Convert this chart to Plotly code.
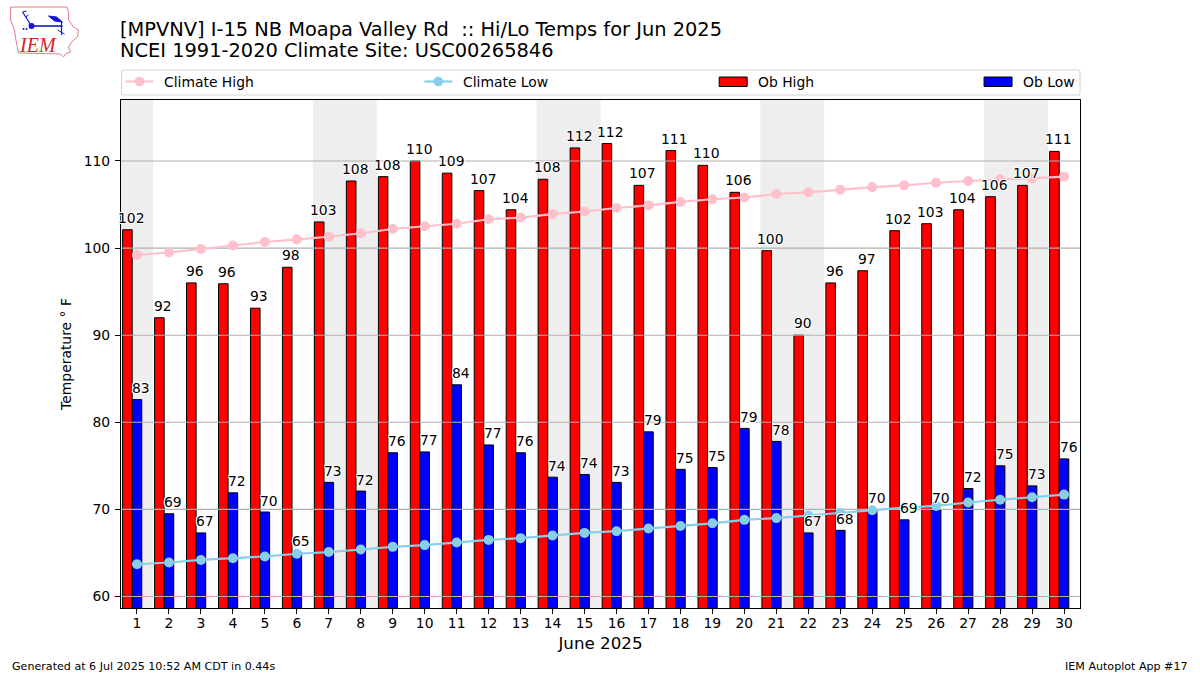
import plotly.graph_objects as go

days = list(range(1, 31))
weekend_days = [1, 7, 8, 14, 15, 21, 22, 28, 29]
y_ticks = [60, 70, 80, 90, 100, 110]

ob_high = [102.1, 92.0, 96.0, 95.9, 93.1, 97.8, 103.0, 107.7, 108.2, 110.0,
           108.6, 106.6, 104.4, 107.9, 111.5, 112.0, 107.2, 111.2, 109.5, 106.4,
           99.7, 90.0, 96.0, 97.4, 102.0, 102.8, 104.4, 105.9, 107.2, 111.1]
ob_low = [82.6, 69.5, 67.3, 71.9, 69.7, 65.1, 73.1, 72.1, 76.5, 76.6,
          84.3, 77.4, 76.5, 73.7, 74.0, 73.1, 78.9, 74.6, 74.8, 79.3,
          77.8, 67.3, 67.6, 70.0, 68.8, 70.0, 72.4, 75.0, 72.7, 75.8]
high_labels = [102, 92, 96, 96, 93, 98, 103, 108, 108, 110,
               109, 107, 104, 108, 112, 112, 107, 111, 110, 106,
               100, 90, 96, 97, 102, 103, 104, 106, 107, 111]
low_labels = [83, 69, 67, 72, 70, 65, 73, 72, 76, 77,
              84, 77, 76, 74, 74, 73, 79, 75, 75, 79,
              78, 67, 68, 70, 69, 70, 72, 75, 73, 76]
climate_high = [99.2, 99.5, 99.9, 100.3, 100.7, 101.0, 101.3, 101.7, 102.2, 102.5,
                102.8, 103.3, 103.5, 103.9, 104.2, 104.6, 104.9, 105.3, 105.6, 105.8,
                106.2, 106.4, 106.7, 107.0, 107.2, 107.5, 107.7, 107.9, 108.0, 108.2]
climate_low = [63.7, 63.9, 64.2, 64.4, 64.6, 64.9, 65.1, 65.4, 65.7, 65.9,
               66.2, 66.5, 66.7, 67.0, 67.3, 67.5, 67.8, 68.1, 68.4, 68.8,
               69.0, 69.3, 69.6, 69.9, 70.2, 70.4, 70.8, 71.1, 71.4, 71.7]

FONT = "DejaVu Sans"
HALO = "-1px -1px 0 #fff, 1px -1px 0 #fff, -1px 1px 0 #fff, 1px 1px 0 #fff"

# plot area edges in page pixels
LEFT, RIGHT, TOP, BOTTOM = 120.5, 1080, 100, 608


def px(x):
    return (x - LEFT) / (RIGHT - LEFT)


def py(y):
    return (BOTTOM - y) / (BOTTOM - TOP)


def page_text(x, y, text, size, anchor="left", color="black", family=FONT):
    # annotations keep a little padding around the text
    nudge = {"left": -2, "right": 1}.get(anchor, 0)
    return dict(xref="paper", yref="paper", x=px(x + nudge), y=py(y), text=text, showarrow=False,
                xanchor=anchor, yanchor="middle", borderpad=0,
                font=dict(family=family, size=size, color=color))


def page_path(points, color, width, fill=None, close=False):
    path = "M" + " L".join(f"{px(a):.5f},{py(b):.5f}" for a, b in points)
    if close:
        path += " Z"
    return dict(type="path", xref="paper", yref="paper", path=path, fillcolor=fill,
                line=dict(color=color, width=width), layer="above")


def page_rect(x0, y0, x1, y1, fill, color="black", width=1):
    return dict(type="rect", xref="paper", yref="paper", x0=px(x0), x1=px(x1), y0=py(y0), y1=py(y1),
                fillcolor=fill, line=dict(color=color, width=width), layer="above")


def page_dot(x, y, r, color):
    return dict(type="circle", xref="paper", yref="paper", x0=px(x - r), x1=px(x + r),
                y0=py(y + r), y1=py(y - r), fillcolor=color, line=dict(width=0), layer="above")


fig = go.Figure()

fig.add_bar(x=days, y=ob_high, width=0.3, offset=-0.45, name="Ob High",
            marker=dict(color="red", line=dict(color="black", width=1)), showlegend=False)
fig.add_bar(x=days, y=ob_low, width=0.3, offset=-0.15, name="Ob Low",
            marker=dict(color="blue", line=dict(color="black", width=1)), showlegend=False)

# grid sits above the bars in the original, so it goes in as a trace
grid_x, grid_y = [], []
for tick in y_ticks:
    grid_x += [0.5, 30.5, None]
    grid_y += [tick, tick, None]
fig.add_scatter(x=grid_x, y=grid_y, mode="lines", line=dict(color="#b0b0b0", width=1.1),
                hoverinfo="skip", showlegend=False)

fig.add_scatter(x=days, y=climate_high, mode="lines+markers", name="Climate High",
                line=dict(color="pink", width=2.1), marker=dict(color="pink", size=10), showlegend=False)
fig.add_scatter(x=days, y=climate_low, mode="lines+markers", name="Climate Low",
                line=dict(color="skyblue", width=2.1), marker=dict(color="skyblue", size=10), showlegend=False)

# weekend shading, Sat + Sun merged so no seam shows between them
weekend_spans = []
for d in weekend_days:
    if weekend_spans and weekend_spans[-1][1] == d - 1:
        weekend_spans[-1][1] = d
    else:
        weekend_spans.append([d, d])
shapes = [dict(type="rect", xref="x", yref="paper", x0=first - 0.5, x1=last + 0.5, y0=0, y1=1,
               fillcolor="#eeeeee", line=dict(width=0), layer="below") for first, last in weekend_spans]

# value labels
annotations = []
for d, v, label in zip(days, ob_high, high_labels):
    annotations.append(dict(x=d, y=v, text=str(label), showarrow=False, xshift=-5.5, yshift=12,
                            yanchor="middle", font=dict(family=FONT, size=13.9, color="black", shadow=HALO)))
for d, v, label in zip(days, ob_low, low_labels):
    annotations.append(dict(x=d, y=v, text=str(label), showarrow=False, xshift=4.5, yshift=11.5,
                            yanchor="middle", font=dict(family=FONT, size=13.9, color="black", shadow=HALO)))

# titles and footer
annotations += [
    page_text(120, 29, "[MPVNV] I-15 NB Moapa Valley Rd  :: Hi/Lo Temps for Jun 2025", 19.4),
    page_text(120, 51, "NCEI 1991-2020 Climate Site: USC00265846", 19.4),
    page_text(12, 666, "Generated at 6 Jul 2025 10:52 AM CDT in 0.44s", 11.1),
    page_text(1188, 666, "IEM Autoplot App #17", 11.1, anchor="right"),
]

# legend frame, spread across the top of the axes
shapes.append(dict(type="path", xref="paper", yref="paper", layer="above",
                   path=(f"M{px(123):.5f},{py(70):.5f} L{px(1078):.5f},{py(70):.5f} "
                         f"Q{px(1080):.5f},{py(70):.5f} {px(1080):.5f},{py(72):.5f} "
                         f"L{px(1080):.5f},{py(93):.5f} Q{px(1080):.5f},{py(95):.5f} {px(1078):.5f},{py(95):.5f} "
                         f"L{px(123):.5f},{py(95):.5f} Q{px(121):.5f},{py(95):.5f} {px(121):.5f},{py(93):.5f} "
                         f"L{px(121):.5f},{py(72):.5f} Q{px(121):.5f},{py(70):.5f} {px(123):.5f},{py(70):.5f} Z"),
                   line=dict(color="#d5d5d5", width=1.1)))
for x0, color, label in [(125, "pink", "Climate High"), (424, "skyblue", "Climate Low")]:
    shapes.append(page_path([(x0, 81.5), (x0 + 28, 81.5)], color, 2.1))
    shapes.append(page_dot(x0 + 14, 81.5, 4.8, color))
    annotations.append(page_text(x0 + 40, 81.5, label, 13.9))
for x0, color, label in [(719, "red", "Ob High"), (984, "blue", "Ob Low")]:
    shapes.append(page_rect(x0, 77, x0 + 28, 86.5, color))
    annotations.append(page_text(x0 + 40, 81.5, label, 13.9))

# IEM logo, top left
outline = [(10, 7), (66, 7), (68, 12), (68, 20), (73, 27), (78, 30), (77, 37), (71, 42), (68, 47),
           (70, 52), (65, 54), (63, 57), (60, 54), (18, 53), (15, 38), (14, 30), (10, 20)]
shapes.append(page_path(outline, "#e08088", 1, close=True))
shapes.append(page_path([(31, 26), (62, 26)], "#1414d2", 1.6))
shapes.append(page_path([(22, 12), (31, 26)], "#1414d2", 1.2))
shapes.append(page_path([(22, 12), (26, 11)], "#1414d2", 1))
shapes.append(page_path([(25, 17), (28, 15)], "#1414d2", 1))
shapes.append(page_path([(48, 16), (56, 17), (62, 22), (54, 21)], "#1414d2", 1, fill="#1414d2", close=True))
shapes.append(page_path([(61, 22), (61, 35)], "#1414d2", 1.2))
shapes.append(page_path([(57, 30), (64, 34)], "#1414d2", 1))
shapes.append(page_dot(31, 26, 3, "#1414d2"))
shapes.append(page_dot(23, 29, 1, "#1414d2"))
shapes.append(page_dot(26, 29, 1, "#1414d2"))
annotations.append(page_text(37.5, 45, "<i>IEM</i>", 20, anchor="center", color="#d8232a", family="Liberation Serif"))

fig.update_layout(
    width=1200,
    height=675,
    margin=dict(l=LEFT, r=1200 - RIGHT, t=TOP, b=675 - BOTTOM),
    barmode="overlay",
    plot_bgcolor="white",
    paper_bgcolor="white",
    font=dict(family=FONT, size=13.9, color="black"),
    shapes=shapes,
    annotations=annotations,
)
fig.update_xaxes(
    range=[0.5, 30.5], tickvals=days, ticks="outside", ticklen=5, tickwidth=1.1, tickcolor="black",
    ticklabelstandoff=-3,
    showgrid=False, zeroline=False, showline=True, linecolor="black", linewidth=1.1, mirror=True,
    title=dict(text="June 2025", font=dict(size=16.7), standoff=7),
)
fig.update_yaxes(
    range=[58.68, 117], tickvals=y_ticks, ticks="outside", ticklen=5, tickwidth=1.1, tickcolor="black",
    ticklabelstandoff=2,
    showgrid=False, zeroline=False, showline=True, linecolor="black", linewidth=1.1, mirror=True,
    title=dict(text="Temperature ° F", font=dict(size=13.9), standoff=8),
)

# the page's default body margin would push the fixed-size figure off by 8px
fig.write_html("out.html", config={"displayModeBar": False},
               post_script="document.body.style.margin = '0';")
